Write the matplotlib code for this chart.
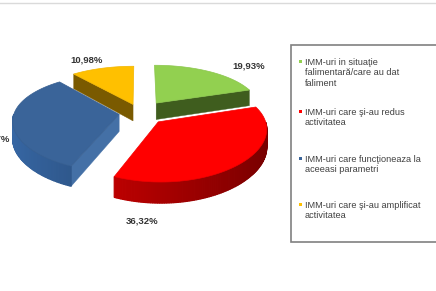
import numpy as np
import matplotlib.pyplot as plt
from matplotlib.patches import Polygon, Rectangle
from matplotlib.colors import to_rgb

plt.rcParams['font.family'] = ['Liberation Sans', 'DejaVu Sans']

# data
legend_labels = ['IMM-uri in situaţie\nfalimentară/care au dat\nfaliment',
                 'IMM-uri care şi-au redus\nactivitatea',
                 'IMM-uri care funcţioneaza la\naceeasi parametri',
                 'IMM-uri care şi-au amplificat\nactivitatea']
values = [19.93, 36.32, 32.77, 10.98]
pct_labels = ['19,93%', '36,32%', '32,77%', '10,98%']
top_colors = ['#92D050', '#FF0000', '#3A6499', '#FFC000']
wall_colors = ['#41601F', '#A80000', '#2A4F7E', '#7F6000']
face_colors = ['#3F5D1E', '#8A0000', '#4470A6', '#7A5A00']
explode = [0.27, 0.25, 0.2, 0.2]

# label positions (pixels)
label_xy = [(249, 66), (142, 221), (-6, 139), (87, 60)]
legend_y = [58, 108, 155, 201]

W, H = 436, 291
fig = plt.figure(figsize=(4.36, 2.91), dpi=100)
ax = fig.add_axes([0, 0, 1, 1])
ax.set_xlim(0, W)
ax.set_ylim(H, 0)
ax.axis('off')

cx, cy = 140, 113
A, B, T = 105, 47, 17
kx, ky = 0.12, 0.164


def proj(u, v, z):
    sx = 1.0 / (1.0 + kx * v)
    sy = 1.0 / (1.0 + ky * v)
    return cx + A * u * sx, cy - B * v * sy + T * (1 - z) * sy


def shade(c, f):
    r, g, b = to_rgb(c)
    return (min(r * f, 1), min(g * f, 1), min(b * f, 1))


fracs = np.array(values) / np.sum(values)
starts = 90 - 360 * np.concatenate([[0], np.cumsum(fracs)[:-1]])
ends = starts - 360 * fracs
mids = (starts + ends) / 2

# back to front by offset depth
order = np.argsort(-np.sin(np.radians(mids)))

for i in order:
    t1, t2, tm = starts[i], ends[i], mids[i]
    e = explode[i]
    ox = e * np.cos(np.radians(tm))
    oy = e * np.sin(np.radians(tm))
    ts = np.radians(np.linspace(t1, t2, 120))
    us = ox + np.cos(ts)
    vs = oy + np.sin(ts)

    # radial faces (visible ones)
    for ang, nrm in ((t1, t1 + 90), (t2, t2 - 90)):
        if np.sin(np.radians(nrm)) < -0.05:
            a = np.radians(ang)
            pts = [proj(ox, oy, 1), proj(ox + np.cos(a), oy + np.sin(a), 1),
                   proj(ox + np.cos(a), oy + np.sin(a), 0), proj(ox, oy, 0)]
            ax.add_patch(Polygon(pts, closed=True, facecolor=face_colors[i],
                                 edgecolor=face_colors[i], lw=0.3))

    # outer wall
    for j in range(len(ts) - 1):
        tmid = (ts[j] + ts[j + 1]) / 2
        if np.sin(tmid) < 0:
            f = 1 - 0.3 * np.cos(tmid)
            col = shade(wall_colors[i], f)
            pts = [proj(us[j], vs[j], 1), proj(us[j + 1], vs[j + 1], 1),
                   proj(us[j + 1], vs[j + 1], 0), proj(us[j], vs[j], 0)]
            ax.add_patch(Polygon(pts, closed=True, facecolor=col,
                                 edgecolor=col, lw=0.9))

    # top face
    pts = [proj(ox, oy, 1)] + [proj(u, v, 1) for u, v in zip(us, vs)]
    ax.add_patch(Polygon(pts, closed=True, facecolor=top_colors[i],
                         edgecolor=shade(top_colors[i], 0.95), lw=0.5))

for (x, y), s in zip(label_xy, pct_labels):
    ax.text(x, y, s, ha='center', va='center', fontsize=6.8,
            fontweight='bold', color='#333333')

# top frame line
ax.axhline(3, color='#DADADA', lw=1)

# legend box
ax.add_patch(Rectangle((291, 45), 160, 197, facecolor='white',
                       edgecolor='#808080', lw=1.2))
for y, lab, c in zip(legend_y, legend_labels, top_colors):
    ax.add_patch(Rectangle((298.5, y + 1.5), 3.5, 3.5, facecolor=c,
                           edgecolor='none'))
    ax.text(305, y, lab, ha='left', va='top', fontsize=6.6,
            color='#404040', linespacing=1.2)

fig.savefig('out.png', dpi=100)
